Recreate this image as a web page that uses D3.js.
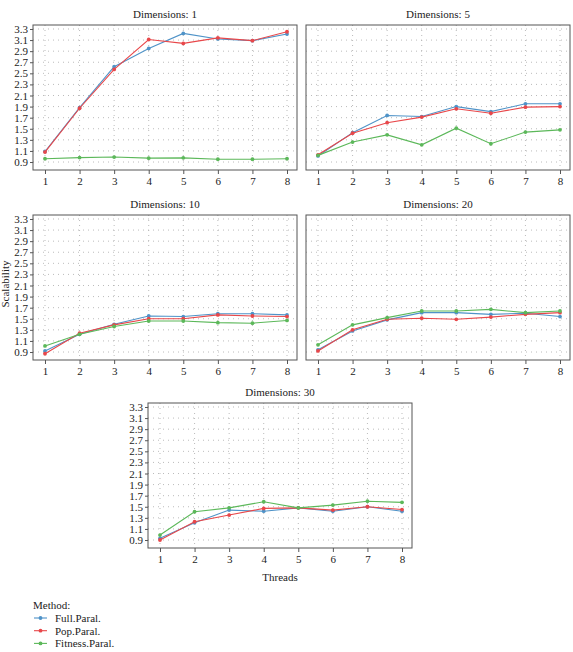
<!DOCTYPE html>
<html>
<head>
<meta charset="utf-8">
<script src="https://cdn.jsdelivr.net/npm/d3@7"></script>
<style>
  body { margin: 0; background: #fff; }
  text { font-family: "Liberation Serif", "DejaVu Serif", serif; fill: #222; }
</style>
</head>
<body>
<svg id="chart"></svg>
<script>
// threads on the x axis
const threads = [1, 2, 3, 4, 5, 6, 7, 8]
const yTicks = [0.9, 1.1, 1.3, 1.5, 1.7, 1.9, 2.1, 2.3, 2.5, 2.7, 2.9, 3.1, 3.3]
const methods = ['Full.Paral.', 'Pop.Paral.', 'Fitness.Paral.']
const methodColors = ['#4f93c8', '#e8474a', '#5cb85a']
const dimensions = [1, 5, 10, 20, 30]

// scalability values, one array per method, per dimension panel
const fullParal = [
    [1.09, 1.88, 2.62, 2.95, 3.22, 3.12, 3.09, 3.21],
    [1.01, 1.43, 1.74, 1.72, 1.90, 1.81, 1.95, 1.95],
    [0.92, 1.22, 1.40, 1.55, 1.54, 1.59, 1.59, 1.57],
    [0.94, 1.28, 1.48, 1.61, 1.61, 1.58, 1.60, 1.54],
    [0.93, 1.21, 1.44, 1.42, 1.48, 1.42, 1.50, 1.42]
]
const popParal = [
    [1.08, 1.87, 2.57, 3.11, 3.04, 3.14, 3.09, 3.25],
    [1.03, 1.42, 1.61, 1.71, 1.86, 1.78, 1.89, 1.90],
    [0.87, 1.24, 1.39, 1.50, 1.50, 1.57, 1.55, 1.54],
    [0.92, 1.30, 1.49, 1.51, 1.49, 1.53, 1.58, 1.61],
    [0.90, 1.23, 1.35, 1.47, 1.48, 1.44, 1.50, 1.45]
]
const fitnessParal = [
    [0.96, 0.98, 0.99, 0.97, 0.975, 0.95, 0.95, 0.96],
    [1.02, 1.26, 1.39, 1.21, 1.51, 1.23, 1.44, 1.48],
    [1.01, 1.22, 1.36, 1.46, 1.46, 1.43, 1.42, 1.47],
    [1.03, 1.39, 1.52, 1.64, 1.64, 1.67, 1.61, 1.64],
    [0.99, 1.41, 1.48, 1.59, 1.48, 1.53, 1.60, 1.58]
]
const seriesByMethod = [fullParal, popParal, fitnessParal]

const width = 573, height = 652
const svg = d3.select('#chart').attr('width', width).attr('height', height)

const panelW = 264, panelH = 145
// panel box positions (left, top) and whether it carries y labels
const panels = [
    {left: 33, top: 25, showY: true},
    {left: 306, top: 25, showY: false},
    {left: 33, top: 215, showY: true},
    {left: 306, top: 215, showY: false},
    {left: 148, top: 403, showY: true}
]

const x = d3.scaleLinear().domain([0.653, 8.289]).range([0, panelW])
const y = d3.scaleLinear().domain([0.756, 3.372]).range([panelH, 0])

function drawPanel(p, i) {
    const g = svg.append('g').attr('transform', `translate(${p.left}, ${p.top})`)

    g.append('text')
        .attr('x', panelW / 2).attr('y', -7)
        .attr('text-anchor', 'middle')
        .style('font-size', '11px')
        .text(`Dimensions: ${dimensions[i]}`)

    // dotted grid
    g.selectAll('.hgrid').data(yTicks).join('line')
        .attr('x1', 0).attr('x2', panelW)
        .attr('y1', d => y(d)).attr('y2', d => y(d))
        .attr('stroke', '#aaa').attr('stroke-width', 0.8)
        .attr('stroke-dasharray', '1,4')
    g.selectAll('.vgrid').data(threads).join('line')
        .attr('y1', 0).attr('y2', panelH)
        .attr('x1', d => x(d)).attr('x2', d => x(d))
        .attr('stroke', '#aaa').attr('stroke-width', 0.8)
        .attr('stroke-dasharray', '1,4')

    const line = d3.line().x((d, j) => x(threads[j])).y(d => y(d))

    seriesByMethod.forEach((series, m) => {
        const vals = series[i]
        g.append('path')
            .datum(vals)
            .attr('d', line)
            .attr('fill', 'none')
            .attr('stroke', methodColors[m])
            .attr('stroke-width', 1.1)
        g.selectAll(`.pt${m}`).data(vals).join('circle')
            .attr('cx', (d, j) => x(threads[j]))
            .attr('cy', d => y(d))
            .attr('r', 1.9)
            .attr('fill', methodColors[m])
    })

    g.append('rect')
        .attr('width', panelW).attr('height', panelH)
        .attr('fill', 'none').attr('stroke', '#555').attr('stroke-width', 1)

    const xAxis = g.append('g')
        .attr('transform', `translate(0, ${panelH})`)
        .call(d3.axisBottom(x).tickValues(threads).tickSize(4).tickPadding(3).tickFormat(d3.format('d')))
    xAxis.select('.domain').remove()
    xAxis.selectAll('line').attr('stroke', '#555')
    xAxis.selectAll('text').style('font-size', '11px').style('font-family', '"Liberation Serif", serif').attr('fill', '#222')

    if (p.showY) {
        const yAxis = g.append('g')
            .call(d3.axisLeft(y).tickValues(yTicks).tickSize(3).tickPadding(2).tickFormat(d3.format('.1f')))
        yAxis.select('.domain').remove()
        yAxis.selectAll('line').attr('stroke', '#555')
        yAxis.selectAll('text').style('font-size', '11px').style('font-family', '"Liberation Serif", serif').attr('fill', '#222')
    }
}

panels.forEach(drawPanel)

// axis titles
svg.append('text')
    .attr('x', 280).attr('y', 581)
    .attr('text-anchor', 'middle')
    .style('font-size', '11px')
    .text('Threads')

svg.append('text')
    .attr('transform', 'translate(9, 284) rotate(-90)')
    .attr('text-anchor', 'middle')
    .style('font-size', '11px')
    .text('Scalability')

// legend
const legend = svg.append('g').attr('transform', 'translate(33, 605)')
legend.append('text').attr('x', 0).attr('y', 4).style('font-size', '11px').text('Method:')
methods.forEach((name, m) => {
    const row = legend.append('g').attr('transform', `translate(0, ${13 + m * 12.7})`)
    row.append('line').attr('x1', 1).attr('x2', 14).attr('y1', 0).attr('y2', 0)
        .attr('stroke', methodColors[m]).attr('stroke-width', 1.1)
    row.append('circle').attr('cx', 7.5).attr('cy', 0).attr('r', 1.9).attr('fill', methodColors[m])
    row.append('text').attr('x', 22).attr('y', 4).style('font-size', '11px').text(name)
})
</script>
</body>
</html>
